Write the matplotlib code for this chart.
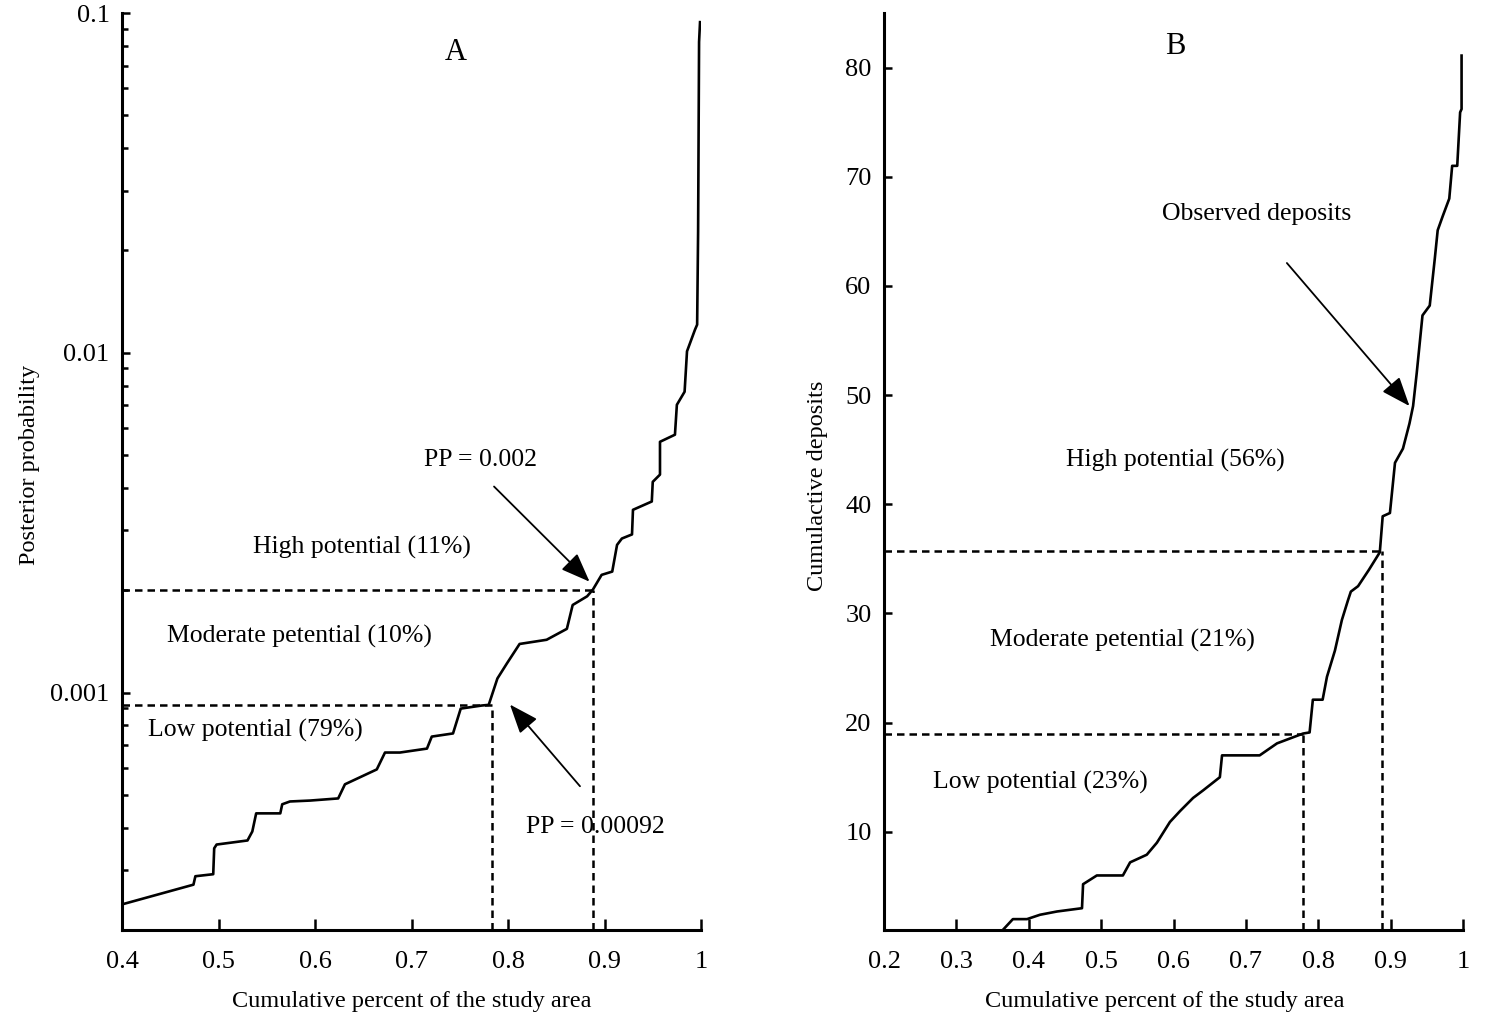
import matplotlib
matplotlib.use("Agg")
import matplotlib.pyplot as plt
from matplotlib.ticker import LogLocator, NullFormatter

plt.rcParams["font.family"] = ["Liberation Serif", "DejaVu Serif"]

# Panel A: posterior probability vs cumulative percent of study area
pp_x = [0.400, 0.474, 0.476, 0.4945, 0.4955, 0.498, 0.530, 0.535, 0.539, 0.564,
        0.566, 0.574, 0.595, 0.624, 0.631, 0.664, 0.6725, 0.688, 0.716, 0.721,
        0.743, 0.751, 0.773, 0.780, 0.789, 0.799, 0.812, 0.840, 0.861, 0.867,
        0.882, 0.888, 0.897, 0.908, 0.913, 0.918, 0.9285, 0.9295, 0.949, 0.950,
        0.9575, 0.9575, 0.973, 0.975, 0.983, 0.9855, 0.9938, 0.996, 0.997, 0.998,
        0.999]
pp_y = [0.000238, 0.000272, 0.000288, 0.000292, 0.000348, 0.000357, 0.000367,
        0.000390, 0.000441, 0.000441, 0.000469, 0.000478, 0.000481, 0.000488,
        0.000537, 0.000594, 0.000666, 0.000666, 0.000684, 0.000742, 0.000758,
        0.000897, 0.000916, 0.00092, 0.00110, 0.00122, 0.00139, 0.00143, 0.00154,
        0.00181, 0.00192, 0.00201, 0.00222, 0.00227, 0.00272, 0.00284, 0.00292,
        0.00345, 0.00365, 0.00417, 0.00438, 0.00547, 0.00574, 0.00703, 0.00768,
        0.0101, 0.0117, 0.0121, 0.0227, 0.0822, 0.094]
pp_thresholds = [0.00092, 0.002]
pp_cuts = [0.783, 0.888]

# Panel B: cumulative deposits vs cumulative percent of study area
dep_x = [0.364, 0.378, 0.3975, 0.4155, 0.439, 0.4735, 0.475, 0.494, 0.530, 0.540,
         0.563, 0.577, 0.595, 0.609, 0.627, 0.641, 0.664, 0.667, 0.719, 0.743,
         0.779, 0.788, 0.7925, 0.806, 0.812, 0.823, 0.8326, 0.841, 0.845, 0.855,
         0.870, 0.885, 0.889, 0.899, 0.906, 0.917, 0.926, 0.931, 0.936, 0.944,
         0.954, 0.961, 0.965, 0.972, 0.981, 0.985, 0.992, 0.996, 0.998, 0.998]
dep_y = [1.0, 2.0, 2.0, 2.4, 2.7, 3.0, 5.2, 6.0, 6.0, 7.2,
         7.9, 9.0, 10.9, 11.9, 13.1, 13.8, 15.0, 17.0, 17.0, 18.1,
         19.0, 19.1, 22.1, 22.1, 24.2, 26.6, 29.4, 31.2, 32.0, 32.5,
         34.0, 35.6, 38.9, 39.2, 43.8, 45.1, 47.4, 49.0, 52.0, 57.3,
         58.2, 62.5, 65.1, 66.4, 68.0, 71.0, 71.0, 75.9, 76.2, 81.1]
dep_thresholds = [19.0, 35.7]
dep_cuts = [0.779, 0.888]

tick_size = 19
text_size = 18.5
label_size = 17.5
dash_kw = dict(color="black", lw=1.8, dashes=(3, 2))
arrow_kw = dict(arrowstyle="-|>,head_length=0.9,head_width=0.35", color="black",
                lw=1.3, mutation_scale=20, shrinkA=0, shrinkB=0)


def style_axes(ax):
    for side in ("top", "right"):
        ax.spines[side].set_visible(False)
    for side in ("left", "bottom"):
        ax.spines[side].set_linewidth(2.2)
    ax.tick_params(axis="x", which="major", direction="in", length=8, width=1.8,
                   pad=15, labelsize=tick_size)
    ax.tick_params(axis="y", which="major", direction="in", length=6, width=1.8,
                   pad=9, labelsize=tick_size)
    ax.tick_params(axis="y", which="minor", direction="in", length=4, width=1.8)


fig = plt.figure(figsize=(15.03, 10.16), dpi=100)

# ---- A ----
ax1 = fig.add_axes([0.0812, 0.0846, 0.3852, 0.9026])
ax1.plot(pp_x, pp_y, color="black", lw=1.9)
ax1.set_yscale("log")
ax1.set_xlim(0.4, 1.0)
ax1.set_ylim(0.0002, 0.1)
ax1.set_xticks([0.4, 0.5, 0.6, 0.7, 0.8, 0.9, 1.0])
ax1.set_xticklabels(["0.4", "0.5", "0.6", "0.7", "0.8", "0.9", "1"])
ax1.set_yticks([0.001, 0.01, 0.1])
ax1.set_yticklabels(["0.001", "0.01", "0.1"])
ax1.yaxis.set_minor_locator(LogLocator(base=10, subs=range(2, 10)))
ax1.yaxis.set_minor_formatter(NullFormatter())
style_axes(ax1)
for thr, cut in zip(pp_thresholds, pp_cuts):
    ax1.plot([0.4, cut], [thr, thr], **dash_kw)
    ax1.plot([cut, cut], [0.0002, thr], **dash_kw)
ax1.set_xlabel("Cumulative percent of the study area", fontsize=label_size)
ax1.set_ylabel("Posterior probability", fontsize=label_size)
ax1.xaxis.set_label_coords(0.50, -0.067)
ax1.yaxis.set_label_coords(-0.142, 0.507)

ax1.text(0.746, 0.0767, "A", fontsize=22, ha="center", va="center")
ax1.text(0.649, 0.00268, "High potential (11%)", fontsize=text_size, ha="center", va="center")
ax1.text(0.584, 0.00146, "Moderate petential (10%)", fontsize=text_size, ha="center", va="center")
ax1.text(0.538, 0.000773, "Low potential (79%)", fontsize=text_size, ha="center", va="center")
ax1.text(0.772, 0.00484, "PP = 0.002", fontsize=text_size, ha="center", va="center")
ax1.text(0.891, 0.000401, "PP = 0.00092", fontsize=text_size, ha="center", va="center")
ax1.annotate("", xy=(0.8845, 0.00212), xytext=(0.7855, 0.00404), arrowprops=arrow_kw)
ax1.annotate("", xy=(0.802, 0.000922), xytext=(0.8746, 0.00053), arrowprops=arrow_kw)

# ---- B ----
ax2 = fig.add_axes([0.5882, 0.0846, 0.3852, 0.9026])
ax2.plot(dep_x, dep_y, color="black", lw=1.9)
ax2.set_xlim(0.2, 1.0)
ax2.set_ylim(1, 85)
ax2.set_xticks([0.2, 0.3, 0.4, 0.5, 0.6, 0.7, 0.8, 0.9, 1.0])
ax2.set_xticklabels(["0.2", "0.3", "0.4", "0.5", "0.6", "0.7", "0.8", "0.9", "1"])
ax2.set_yticks([10, 20, 30, 40, 50, 60, 70, 80])
style_axes(ax2)
for thr, cut in zip(dep_thresholds, dep_cuts):
    ax2.plot([0.2, cut], [thr, thr], **dash_kw)
    ax2.plot([cut, cut], [1, thr], **dash_kw)
ax2.set_xlabel("Cumulative percent of the study area", fontsize=label_size)
ax2.set_ylabel("Cumulactive deposits", fontsize=label_size)
ax2.xaxis.set_label_coords(0.484, -0.067)
ax2.yaxis.set_label_coords(-0.097, 0.484)

ax2.text(0.602, 81.9, "B", fontsize=22, ha="center", va="center")
ax2.text(0.715, 66.6, "Observed deposits", fontsize=text_size, ha="center", va="center")
ax2.text(0.602, 44.0, "High potential (56%)", fontsize=text_size, ha="center", va="center")
ax2.text(0.530, 27.5, "Moderate petential (21%)", fontsize=text_size, ha="center", va="center")
ax2.text(0.4155, 14.5, "Low potential (23%)", fontsize=text_size, ha="center", va="center")
ax2.annotate("", xy=(0.926, 49.0), xytext=(0.7566, 62.1), arrowprops=arrow_kw)

fig.savefig("out.png", dpi=100)
